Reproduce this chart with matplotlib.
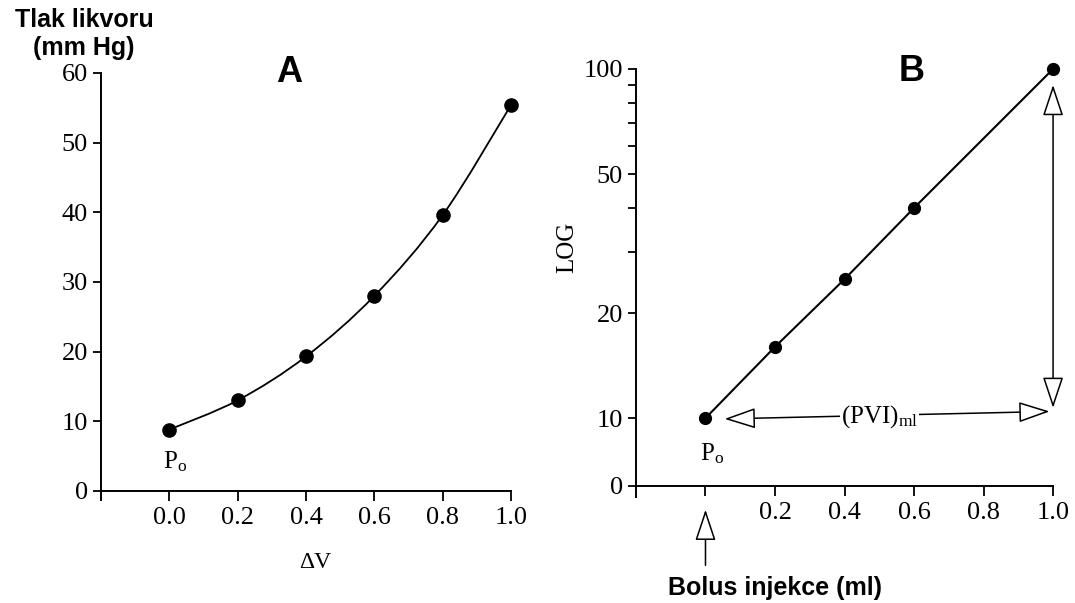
import numpy as np
import matplotlib
matplotlib.use('Agg')
import matplotlib.pyplot as plt
from matplotlib.path import Path
from matplotlib.patches import PathPatch, FancyArrowPatch
from matplotlib.ticker import FixedLocator, FixedFormatter, NullFormatter
import matplotlib.transforms as mtransforms

plt.rcParams['font.family'] = 'serif'
plt.rcParams['font.serif'] = ['Liberation Serif', 'DejaVu Serif']

# Panel A data
dv = [0.0, 0.2, 0.4, 0.6, 0.8, 1.0]
pressure = [8.8, 13.0, 19.3, 28.0, 39.6, 55.4]
a_xticks = [0.0, 0.2, 0.4, 0.6, 0.8, 1.0]
a_xlabels = ['0.0', '0.2', '0.4', '0.6', '0.8', '1.0']
a_yticks = [0, 10, 20, 30, 40, 50, 60]

# Panel B data
bolus = [0.0, 0.2, 0.4, 0.6, 1.0]
log_pressure = [10, 16, 25, 40, 100]
b_xticks = [0.0, 0.2, 0.4, 0.6, 0.8, 1.0]
b_xlabels = ['', '0.2', '0.4', '0.6', '0.8', '1.0']
b_base = 6.4
b_yticks = [b_base, 10, 20, 50, 100]
b_ylabels = ['0', '10', '20', '50', '100']
b_minor = [30, 40, 60, 70, 80, 90]

fig = plt.figure(figsize=(10.75, 6.03), dpi=100)

lw_ax = 1.4
tick_fs = 19


def style_axes(ax):
    for s in ['top', 'right']:
        ax.spines[s].set_visible(False)
    for s in ['left', 'bottom']:
        ax.spines[s].set_linewidth(lw_ax)
    ax.tick_params(which='both', direction='out', length=6, width=1.3,
                   labelsize=tick_fs)
    ax.tick_params(axis='x', pad=5, length=7)


def smooth_path(xs, ys):
    # Catmull-Rom curve through the points, drawn as cubic Bezier segments
    pts = np.column_stack([xs, ys])
    ext = np.vstack([pts[0], pts, pts[-1]])
    verts = [pts[0]]
    codes = [Path.MOVETO]
    for i in range(1, len(ext) - 2):
        p0, p1, p2, p3 = ext[i - 1], ext[i], ext[i + 1], ext[i + 2]
        verts += [p1 + (p2 - p0) / 6, p2 - (p3 - p1) / 6, p2]
        codes += [Path.CURVE4] * 3
    return Path(verts, codes)


# ---- Panel A ----
axA = fig.add_axes([0.094, 0.171, 0.3814, 0.708])
style_axes(axA)
axA.set_xlim(-0.2, 1.0)
axA.set_ylim(-1.3, 60)
axA.spines['bottom'].set_position(('data', 0))
axA.set_xticks(a_xticks)
axA.set_xticklabels(a_xlabels)
axA.set_yticks(a_yticks)
axA.add_patch(PathPatch(smooth_path(dv, pressure), fill=False, lw=1.3,
                        color='black', transform=axA.transData, clip_on=False))
axA.plot(dv, pressure, 'o', color='black', ms=9.5, clip_on=False)
axA.text(0.018, 4.2, r'$\mathregular{P_o}$', fontsize=18, ha='center', va='center')
axA.text(0.459, 1.0, 'A', transform=axA.transAxes, fontsize=26, fontweight='bold',
         family='Liberation Sans', ha='center', va='center')
fig.text(315 / 1075, 1 - 562 / 603, 'ΔV', fontsize=17, ha='center', va='center')
fig.text(84 / 1075, 1 - 34 / 603, 'Tlak likvoru\n(mm Hg)', fontsize=18,
         fontweight='bold', family='Liberation Sans', ha='center', va='center',
         multialignment='center', linespacing=1.25)

# ---- Panel B ----
axB = fig.add_axes([0.5916, 0.176, 0.388, 0.7096])
style_axes(axB)
axB.set_yscale('log')
axB.set_xlim(-0.2, 1.0)
axB.set_ylim(5.95, 100)
axB.spines['bottom'].set_position(('data', b_base))
axB.set_xticks(b_xticks)
axB.set_xticklabels(b_xlabels)
axB.yaxis.set_major_locator(FixedLocator(b_yticks))
axB.yaxis.set_major_formatter(FixedFormatter(b_ylabels))
axB.yaxis.set_minor_locator(FixedLocator(b_minor))
axB.yaxis.set_minor_formatter(NullFormatter())
axB.plot(bolus, log_pressure, '-', color='black', lw=1.5, clip_on=False)
axB.plot(bolus, log_pressure, 'o', color='black', ms=8.5, clip_on=False)
axB.set_ylabel('LOG', fontsize=18)
axB.yaxis.set_label_coords(-0.139, 0.584)
axB.text(0.662, 0.993, 'B', transform=axB.transAxes, fontsize=26, fontweight='bold',
         family='Liberation Sans', ha='center', va='center')
axB.text(0.018, 7.9, r'$\mathregular{P_o}$', fontsize=18, ha='center', va='center')

arrow_kw = dict(arrowstyle='<|-|>,head_length=1.5,head_width=0.5', mutation_scale=13,
                fc='white', ec='black', lw=1.1, shrinkA=0, shrinkB=0, clip_on=False)
axB.add_patch(FancyArrowPatch((0.055, 9.95), (0.99, 10.45), **arrow_kw))
axB.add_patch(FancyArrowPatch((1.0, 10.7), (1.0, 90), **arrow_kw))
axB.text(0.5, 10.1, r'$\mathregular{(PVI)_{ml}}$', fontsize=18, ha='center',
         va='center', bbox=dict(fc='white', ec='none', pad=0.5))

trans = mtransforms.blended_transform_factory(axB.transData, axB.transAxes)
axB.add_patch(FancyArrowPatch((0.0, -0.16), (0.0, -0.03), transform=trans,
                              clip_on=False,
                              arrowstyle='-|>,head_length=1.5,head_width=0.5',
                              mutation_scale=13, fc='white', ec='black', lw=1.1,
                              shrinkA=0, shrinkB=0))
axB.text(0.2, -0.213, 'Bolus injekce (ml)', transform=trans, fontsize=18,
         fontweight='bold', family='Liberation Sans', ha='center', va='center')

fig.savefig('out.png', dpi=100)
